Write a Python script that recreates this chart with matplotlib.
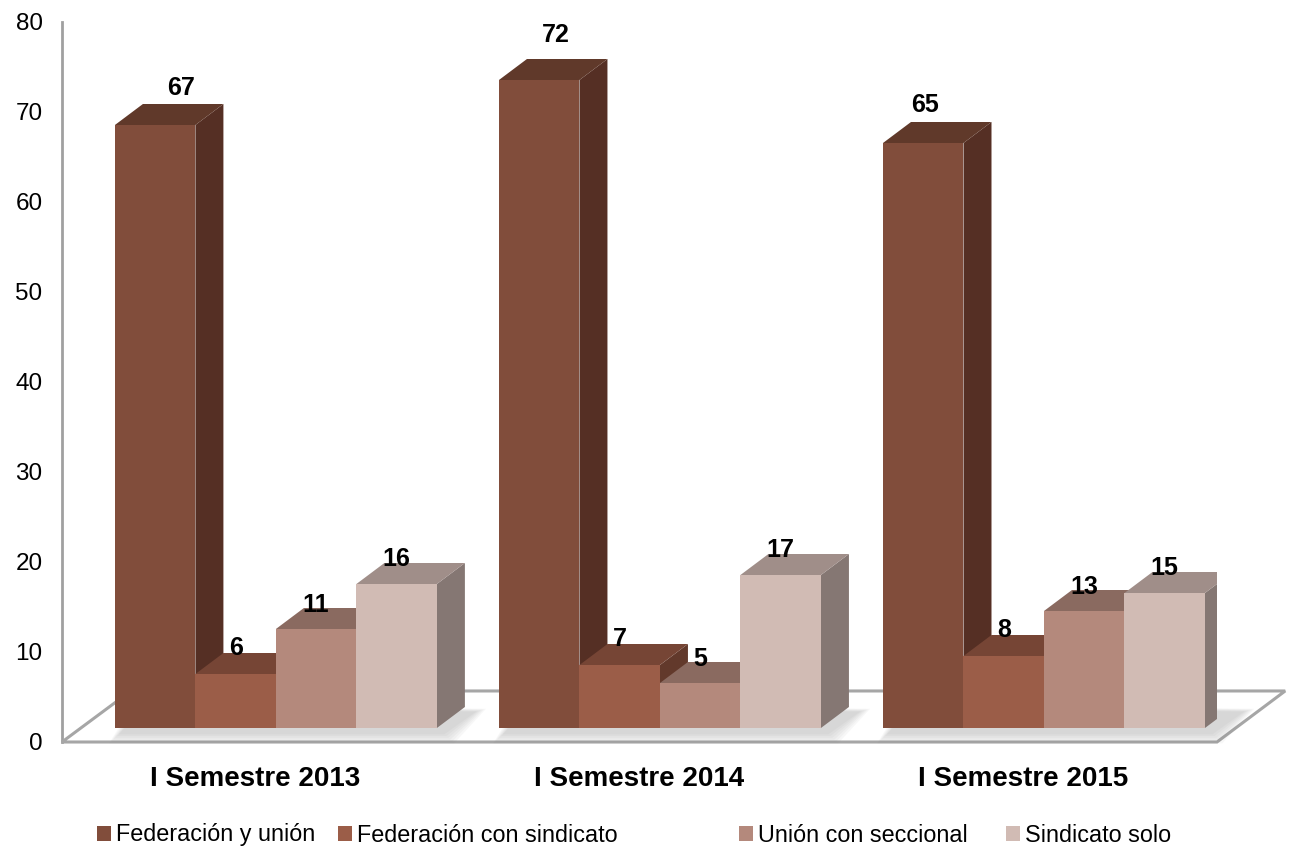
import matplotlib
matplotlib.use("Agg")
import matplotlib.pyplot as plt
from matplotlib.patches import Polygon, Patch
import numpy as np

plt.rcParams['font.family'] = ['Liberation Sans', 'DejaVu Sans']

categories = ["I Semestre 2013", "I Semestre 2014", "I Semestre 2015"]
series_names = ["Federación y unión", "Federación con sindicato",
                "Unión con seccional", "Sindicato solo"]
fed_union = [67, 72, 65]
fed_sindicato = [6, 7, 8]
union_seccional = [11, 5, 13]
sindicato_solo = [16, 17, 15]
y_ticks = [0, 10, 20, 30, 40, 50, 60, 70, 80]

series = [fed_union, fed_sindicato, union_seccional, sindicato_solo]

front_cols = ["#814D3B", "#9B5D48", "#B4897C", "#D1BBB4"]
top_cols = ["#60392A", "#764535", "#8A6A60", "#A08E89"]
side_cols = ["#552F24", "#62392B", "#7A5D54", "#857773"]

# geometry (data units)
bar_w = 0.2096
dx = 0.0729
dy = 2.333
base = 1.556
floor_back = 5.67
x_left, x_right = -0.557, 2.4505
floor_back_left, floor_back_right = -0.378, 2.628

W, H = 1290, 849
fig = plt.figure(figsize=(W / 100, H / 100), dpi=100)
ax = fig.add_axes([62 / W, (H - 742) / H, (1217 - 62) / W, 720 / H])
ax.set_xlim(x_left, x_right)
ax.set_ylim(0, 80)

for s in ["top", "right", "bottom"]:
    ax.spines[s].set_visible(False)
ax.spines["left"].set_color("#A0A0A0")
ax.spines["left"].set_linewidth(2)
ax.spines["left"].set_zorder(0.5)

# floor
floor = Polygon([(x_left, 0), (x_right, 0), (floor_back_right, floor_back),
                 (floor_back_left, floor_back)], closed=True,
                facecolor="white", edgecolor="#A6A6A6", linewidth=2.2,
                clip_on=False, zorder=1)
ax.add_patch(floor)

# soft shadows under groups
for g in range(len(categories)):
    gl = g - 2 * bar_w
    gr = g + 2 * bar_w
    for k in range(6):
        e = 0.005 * k
        ey = 0.2 * k
        shp = Polygon([(gl - e + 0.01, base - 0.7 - ey), (gr + e + 0.02, base - 0.7 - ey),
                       (gr + dx + e + 0.03, base + dy - 0.5 + ey * 0.3),
                       (gl + dx - e, base + dy + ey * 0.3)], closed=True,
                      facecolor="#7F7F7F", edgecolor="none", alpha=0.055,
                      clip_on=False, zorder=1.5)
        ax.add_patch(shp)

# bars
z = 2
label_dy = [1.8, 0.5, 0.3, 0.4]
label_nudge = {(0, 0): (0.068, 0.0), (0, 1): (0.044, 0.9), (0, 2): (0.004, 0.1)}
for g in range(len(categories)):
    for i, vals in enumerate(series):
        v = vals[g]
        x0 = g - 2 * bar_w + i * bar_w
        x1 = x0 + bar_w
        y0 = base
        y1 = base + v
        front = Polygon([(x0, y0), (x1, y0), (x1, y1), (x0, y1)], closed=True,
                        facecolor=front_cols[i], edgecolor="none", zorder=z)
        top = Polygon([(x0, y1), (x1, y1), (x1 + dx, y1 + dy), (x0 + dx, y1 + dy)],
                      closed=True, facecolor=top_cols[i], edgecolor="none", zorder=z)
        side = Polygon([(x1, y0), (x1 + dx, y0 + dy), (x1 + dx, y1 + dy), (x1, y1)],
                       closed=True, facecolor=side_cols[i], edgecolor="none", zorder=z)
        ax.add_patch(side)
        ax.add_patch(top)
        ax.add_patch(front)
        z += 0.1
        ndx, ndy = label_nudge.get((i, g), (0.0, 0.0))
        ax.text((x0 + x1) / 2 + ndx, y1 + dy + label_dy[i] + ndy, str(v),
                ha="center", va="center",
                fontsize=18, fontweight="bold", color="black", zorder=10)

ax.set_yticks(y_ticks)
ax.set_yticklabels([str(t) for t in y_ticks], fontsize=17.5)
ax.tick_params(axis="y", length=0, pad=14)
ax.set_xticks([g - 0.055 for g in range(len(categories))])
ax.set_xticklabels(categories, fontsize=20, fontweight="bold")
ax.tick_params(axis="x", length=0, pad=17)

# legend entries, one per series
legend_left_px = [97, 338, 739, 1006]
for name, col, lx in zip(series_names, front_cols, legend_left_px):
    leg = fig.legend([Patch(facecolor=col, edgecolor="none")], [name],
                     loc="center left", bbox_to_anchor=(lx / W, (H - 835) / H),
                     frameon=False, fontsize=16.8, handlelength=0.6,
                     handleheight=0.62, handletextpad=0.2, borderpad=0,
                     borderaxespad=0)

fig.savefig("out.png", dpi=100)
